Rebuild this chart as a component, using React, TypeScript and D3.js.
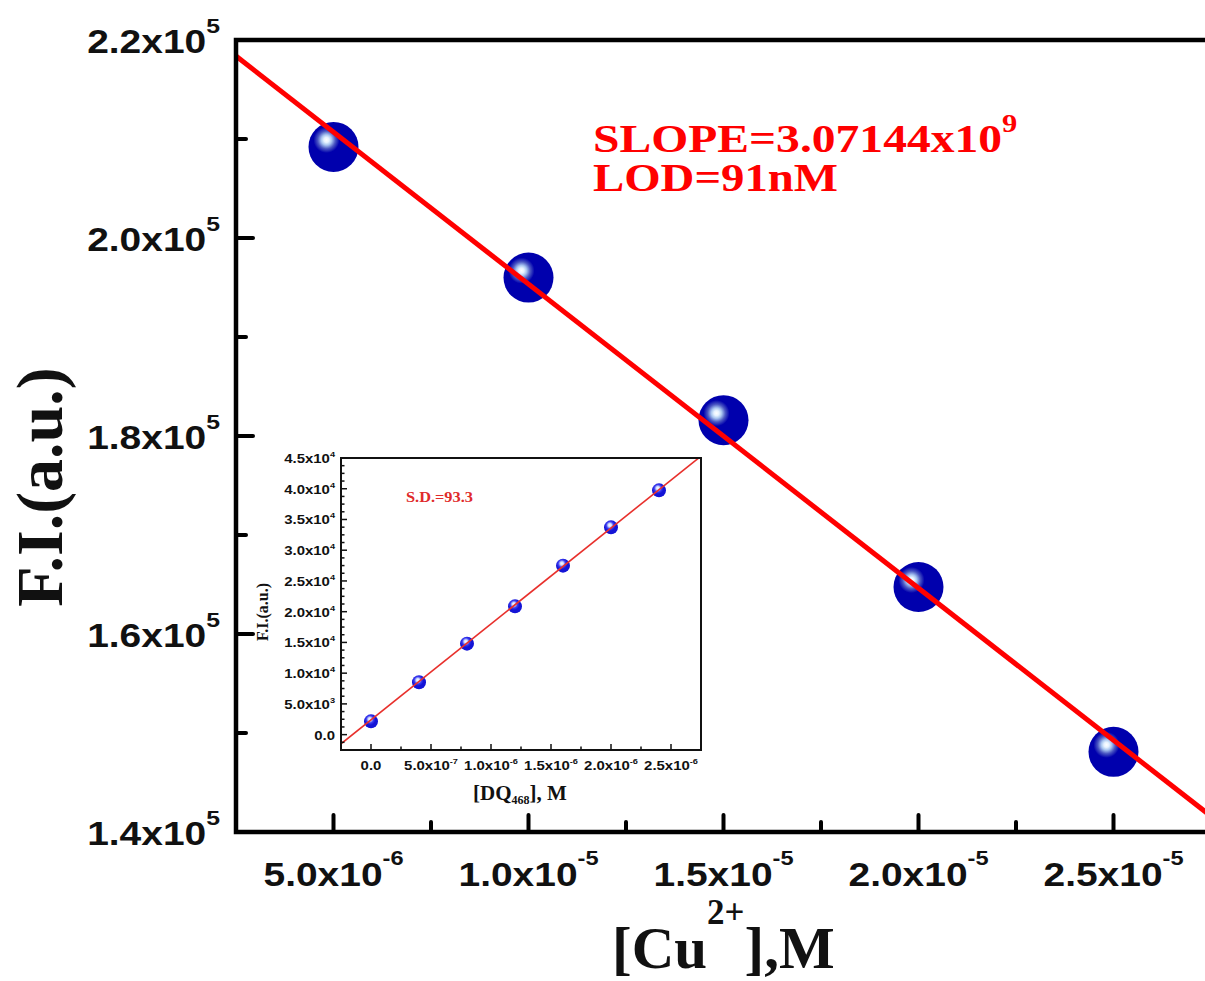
import React from "react";
import * as d3 from "d3";

// ---------- main plot data ----------
const cuConc = [5e-6, 1e-5, 1.5e-5, 2e-5, 2.5e-5];
const cuFI = [2.092e5, 1.96e5, 1.816e5, 1.6475e5, 1.481e5];
const mainSlope = -3.07144e9;
const mainIntercept = 2.2606e5;
const mainXTicks = [5e-6, 1e-5, 1.5e-5, 2e-5, 2.5e-5];
const mainXMinor = [7.5e-6, 1.25e-5, 1.75e-5, 2.25e-5];
const mainYTicks = [1.4e5, 1.6e5, 1.8e5, 2.0e5, 2.2e5];
const mainYMinor = [1.5e5, 1.7e5, 1.9e5, 2.1e5];
const mainXDomain = [2.5e-6, 2.75e-5];
const mainYDomain = [1.4e5, 2.2e5];

// ---------- inset data ----------
const dqConc = [0, 4e-7, 8e-7, 1.2e-6, 1.6e-6, 2e-6, 2.4e-6];
const dqFI = [2160, 8510, 14800, 20870, 27490, 33720, 39740];
const insetSlope = 1.56e10;
const insetIntercept = 2400;
const insetXTicks = [0, 5e-7, 1e-6, 1.5e-6, 2e-6, 2.5e-6];
const insetXMinor = [2.5e-7, 7.5e-7, 1.25e-6, 1.75e-6, 2.25e-6];
const insetYTicks = [0, 5e3, 1e4, 1.5e4, 2e4, 2.5e4, 3e4, 3.5e4, 4e4, 4.5e4];
const insetXDomain = [-2.5e-7, 2.75e-6];
const insetYDomain = [-2.5e3, 4.5e4];

const SANS = "'Liberation Sans', Arial, sans-serif";
const SERIF = "'Liberation Serif', 'Times New Roman', serif";

function sci(v: number) {
  if (v === 0) return { m: "0.0", e: null as string | null };
  const e = Math.floor(Math.log10(Math.abs(v)) + 1e-9);
  const m = (v / Math.pow(10, e)).toFixed(1);
  return { m, e: String(e) };
}

function Sci(props: any) {
  const { x, y, v, anchor, fs, supFs, supDy, sx } = props;
  const { m, e } = sci(v);
  return (
    <g transform={`translate(${x},${y}) scale(${sx},1)`}>
      <text textAnchor={anchor} fontSize={fs} fontWeight="bold" fontFamily={SANS} fill="#111">
        {e === null ? (
          m
        ) : (
          <>
            <tspan>{m}x10</tspan>
            <tspan fontSize={supFs} dy={supDy}>{e}</tspan>
          </>
        )}
      </text>
    </g>
  );
}

export default function App() {
  // main scales
  const L = 236, R = 1211, T = 40, B = 832;
  const x = d3.scaleLinear().domain(mainXDomain).range([L, R]);
  const y = d3.scaleLinear().domain(mainYDomain).range([B, T]);
  const fitLine = d3
    .line<number>()
    .x((d) => x(d))
    .y((d) => y(mainIntercept + mainSlope * d));

  // inset scales
  const iL = 341, iR = 701, iT = 458, iB = 750;
  const ix = d3.scaleLinear().domain(insetXDomain).range([iL, iR]);
  const iy = d3.scaleLinear().domain(insetYDomain).range([iB, iT]);
  const insetLine = d3
    .line<number>()
    .x((d) => ix(d))
    .y((d) => iy(insetIntercept + insetSlope * d));
  const insetYMinor: number[] = d3.range(-1250, 4.5e4, 1250).filter((v) => Math.abs(v % 5000) > 1);

  return (
    <svg
      width={1205}
      height={981}
      style={{ position: "absolute", left: 0, top: 0, background: "#fff" }}
    >
      <defs>
        <radialGradient id="bigBall" cx="0.36" cy="0.36" r="0.26" fx="0.36" fy="0.36">
          <stop offset="0" stopColor="#ffffff" />
          <stop offset="0.2" stopColor="#e6f2ff" />
          <stop offset="0.4" stopColor="#a9c6f0" />
          <stop offset="0.68" stopColor="#4a56c2" />
          <stop offset="1" stopColor="#0000ad" />
        </radialGradient>
        <radialGradient id="smallBall" cx="0.42" cy="0.36" r="0.4" fx="0.42" fy="0.34">
          <stop offset="0" stopColor="#ffffff" />
          <stop offset="0.3" stopColor="#d0dcff" />
          <stop offset="0.65" stopColor="#3a3af0" />
          <stop offset="1" stopColor="#1414d6" />
        </radialGradient>
        <clipPath id="mainClip">
          <rect x={L} y={T} width={R - L} height={B - T} />
        </clipPath>
        <clipPath id="insetClip">
          <rect x={iL} y={iT} width={iR - iL} height={iB - iT} />
        </clipPath>
      </defs>
      <rect x={0} y={0} width={1205} height={981} fill="#fff" />

      {/* main markers */}
      {cuConc.map((c, i) => (
        <circle key={"m" + i} cx={x(c)} cy={y(cuFI[i])} r={25} fill="url(#bigBall)" />
      ))}
      {/* main fit line */}
      <path
        d={fitLine(mainXDomain) || ""}
        stroke="#ff0000"
        strokeWidth={5}
        fill="none"
        clipPath="url(#mainClip)"
      />

      {/* main frame */}
      <rect x={L} y={T} width={R - L} height={B - T} fill="none" stroke="#000" strokeWidth={4.5} />
      {/* main ticks */}
      <g stroke="#000" strokeWidth={4} strokeLinecap="round">
        {mainYTicks.map((t, i) => (
          <line key={"yt" + i} x1={L} x2={L + 17} y1={y(t)} y2={y(t)} />
        ))}
        {mainYMinor.map((t, i) => (
          <line key={"ym" + i} x1={L} x2={L + 10} y1={y(t)} y2={y(t)} />
        ))}
        {mainXTicks.map((t, i) => (
          <line key={"xt" + i} x1={x(t)} x2={x(t)} y1={B} y2={B - 17} />
        ))}
        {mainXMinor.map((t, i) => (
          <line key={"xm" + i} x1={x(t)} x2={x(t)} y1={B} y2={B - 10} />
        ))}
      </g>
      {/* main tick labels */}
      {mainYTicks.map((t, i) => (
        <Sci key={"yl" + i} x={220} y={y(t) + 13} v={t} anchor="end" fs={33} supFs={21} supDy={-20} sx={1.18} />
      ))}
      {mainXTicks.map((t, i) => (
        <Sci key={"xl" + i} x={x(t)} y={886} v={t} anchor="middle" fs={33} supFs={20} supDy={-21} sx={1.18} />
      ))}

      {/* axis titles */}
      <text
        transform="translate(62,487) rotate(-90)"
        textAnchor="middle"
        fontFamily={SERIF}
        fontWeight="bold"
        fontSize={66}
        fill="#111"
      >
        F.I.(a.u.)
      </text>
      <text x={612} y={968} fontFamily={SERIF} fontWeight="bold" fontSize={59} fill="#111">
        <tspan>[Cu</tspan>
        <tspan fontSize={35} dy={-44}>2+</tspan>
        <tspan dy={44}>],M</tspan>
      </text>

      {/* annotations */}
      <g transform="translate(593,152) scale(1.22,1)">
        <text fontFamily={SERIF} fontWeight="bold" fontSize={39} fill="#ff0000">
          <tspan>SLOPE=3.07144x10</tspan>
          <tspan fontSize={25} dy={-20}>9</tspan>
        </text>
      </g>
      <g transform="translate(593,191) scale(1.2,1)">
        <text fontFamily={SERIF} fontWeight="bold" fontSize={39} fill="#ff0000">
          LOD=91nM
        </text>
      </g>

      {/* ---------- inset ---------- */}
      <rect x={iL} y={iT} width={iR - iL} height={iB - iT} fill="#fff" />
      {dqConc.map((c, i) => (
        <circle key={"i" + i} cx={ix(c)} cy={iy(dqFI[i])} r={7} fill="url(#smallBall)" />
      ))}
      <path
        d={insetLine(insetXDomain) || ""}
        stroke="#e8302c"
        strokeWidth={1.6}
        fill="none"
        clipPath="url(#insetClip)"
      />
      <rect x={iL} y={iT} width={iR - iL} height={iB - iT} fill="none" stroke="#111" strokeWidth={2} />
      <g stroke="#111" strokeWidth={1.5}>
        {insetYTicks.map((t, i) => (
          <line key={"iyt" + i} x1={iL} x2={iL + 6} y1={iy(t)} y2={iy(t)} />
        ))}
        {insetYMinor.map((t, i) => (
          <line key={"iym" + i} x1={iL} x2={iL + 3.5} y1={iy(t)} y2={iy(t)} />
        ))}
        {insetXTicks.map((t, i) => (
          <line key={"ixt" + i} x1={ix(t)} x2={ix(t)} y1={iB} y2={iB - 6} />
        ))}
        {insetXMinor.map((t, i) => (
          <line key={"ixm" + i} x1={ix(t)} x2={ix(t)} y1={iB} y2={iB - 3.5} />
        ))}
      </g>
      {insetYTicks.map((t, i) => (
        <Sci key={"iyl" + i} x={335} y={iy(t) + 5} v={t} anchor="end" fs={13} supFs={8} supDy={-6} sx={1.15} />
      ))}
      {insetXTicks.map((t, i) => (
        <Sci key={"ixl" + i} x={ix(t)} y={770} v={t} anchor="middle" fs={13} supFs={8} supDy={-6} sx={1.15} />
      ))}
      <text
        transform="translate(268,612) rotate(-90)"
        textAnchor="middle"
        fontFamily={SERIF}
        fontWeight="bold"
        fontSize={16}
        fill="#111"
      >
        F.I.(a.u.)
      </text>
      <text x={520} y={800} textAnchor="middle" fontFamily={SERIF} fontWeight="bold" fontSize={21} fill="#111">
        <tspan>[DQ</tspan>
        <tspan fontSize={12} dy={4}>468</tspan>
        <tspan dy={-4}>], M</tspan>
      </text>
      <g transform="translate(406,502) scale(1.09,1)">
        <text fontFamily={SERIF} fontWeight="bold" fontSize={15} fill="#e02a2a">
          S.D.=93.3
        </text>
      </g>
    </svg>
  );
}
